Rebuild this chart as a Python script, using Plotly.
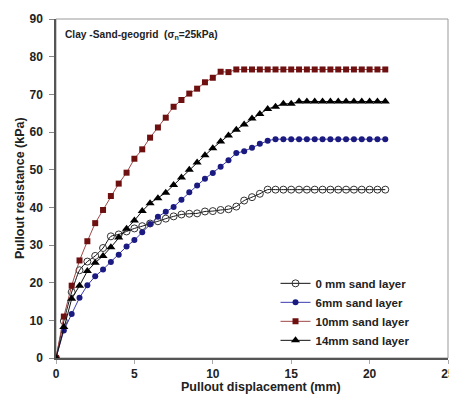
import plotly.graph_objects as go

x_mm = [i * 0.5 for i in range(43)]  # 0 .. 21 mm

y_0mm = [0, 9.8, 17.5, 23.3, 25.6, 27.1, 29.2, 32.3, 32.8, 33.6, 34.4, 35.0, 35.7, 36.3,
         37.0, 37.6, 38.1, 38.3, 38.4, 38.9, 39.0, 39.3, 39.5, 40.2, 41.8, 42.7, 43.6, 44.7,
         44.7, 44.7, 44.7, 44.7, 44.7, 44.7, 44.7, 44.7, 44.7, 44.7, 44.7, 44.7, 44.7, 44.7, 44.7]
y_6mm = [0, 7.3, 11.7, 16.0, 19.3, 21.7, 23.5, 25.5, 27.4, 29.6, 31.3, 33.4, 35.6, 37.5,
         38.8, 40.1, 42.0, 44.0, 45.8, 47.6, 49.1, 50.8, 52.5, 54.4, 54.9, 55.8, 56.9, 57.7,
         58.1, 58.1, 58.1, 58.1, 58.1, 58.1, 58.1, 58.1, 58.1, 58.1, 58.1, 58.1, 58.1, 58.1, 58.1]
y_10mm = [0, 11.0, 19.2, 25.9, 31.0, 35.8, 39.3, 43.0, 46.3, 49.2, 52.9, 55.4, 58.5, 61.2,
          63.8, 66.7, 68.5, 70.2, 71.5, 73.2, 74.4, 76.0, 75.9, 76.6, 76.6, 76.6, 76.6, 76.6,
          76.6, 76.6, 76.6, 76.6, 76.6, 76.6, 76.6, 76.6, 76.6, 76.6, 76.6, 76.6, 76.6, 76.6, 76.6]
y_14mm = [0, 8.2, 15.7, 19.2, 23.1, 25.3, 27.1, 29.4, 32.0, 34.3, 36.5, 39.0, 41.1, 42.4,
          43.9, 45.9, 47.9, 50.0, 51.9, 53.8, 55.7, 57.5, 59.1, 60.6, 62.0, 63.6, 64.8, 66.1,
          66.7, 67.5, 67.5, 68.1, 68.1, 68.1, 68.1, 68.1, 68.1, 68.1, 68.1, 68.1, 68.1, 68.1, 68.1]

series_names = ["0 mm sand layer", "6mm sand layer", "10mm sand layer", "14mm sand layer"]
x_ticks = [0, 5, 10, 15, 20, 25]
y_ticks = [0, 10, 20, 30, 40, 50, 60, 70, 80, 90]

FONT = "Liberation Sans, Arial, sans-serif"
TXT = "#222222"

fig = go.Figure()
fig.add_trace(go.Scatter(x=x_mm, y=y_0mm, name=f"<b>{series_names[0]}</b>", mode="lines+markers",
                         line=dict(color="#111111", width=1, shape="spline", smoothing=0.6),
                         marker=dict(symbol="circle-open", size=7, color="#333333",
                                     line=dict(width=1, color="#333333"))))
fig.add_trace(go.Scatter(x=x_mm, y=y_6mm, name=f"<b>{series_names[1]}</b>", mode="lines+markers",
                         line=dict(color="#3b3bb0", width=1),
                         marker=dict(symbol="circle", size=6, color="#1a1a80")))
fig.add_trace(go.Scatter(x=x_mm, y=y_10mm, name=f"<b>{series_names[2]}</b>", mode="lines+markers",
                         line=dict(color="#a04848", width=1),
                         marker=dict(symbol="square", size=6, color="#6e1010")))
fig.add_trace(go.Scatter(x=x_mm, y=y_14mm, name=f"<b>{series_names[3]}</b>", mode="lines+markers",
                         line=dict(color="#111111", width=1),
                         marker=dict(symbol="triangle-up", size=8, color="#000000")))

axis_font = dict(family=FONT, size=12, color=TXT)

fig.update_layout(
    width=449, height=394,
    margin=dict(l=56, r=1, t=19, b=36, autoexpand=False),
    paper_bgcolor="white", plot_bgcolor="white",
    font=dict(family=FONT, size=11, color=TXT),
    showlegend=True,
    legend=dict(x=0.56, y=0.263, xanchor="left", yanchor="top",
                bgcolor="rgba(0,0,0,0)", font=dict(family=FONT, size=11.5, color=TXT),
                tracegroupgap=0, itemwidth=30),
    xaxis=dict(range=[0, 25], tickvals=x_ticks, ticktext=[f"<b>{v}</b>" for v in x_ticks],
               showgrid=False, zeroline=False, showline=True, linecolor="#555555", linewidth=1.5,
               ticks="outside", ticklen=4, tickcolor="#aaaaaa", tickfont=axis_font,
               ticklabeloverflow="allow", automargin=False),
    yaxis=dict(range=[0, 90], tickvals=y_ticks, ticktext=[f"<b>{v}</b>" for v in y_ticks],
               showgrid=False, zeroline=False, showline=True, linecolor="#555555", linewidth=1.5,
               ticks="outside", ticklen=5, tickcolor="#888888", tickfont=axis_font,
               ticklabelstandoff=4, automargin=False),
    shapes=[dict(type="rect", xref="paper", yref="paper", x0=0, x1=1, y0=0, y1=1,
                 line=dict(color="#999999", width=1), layer="below")],
    annotations=[
        dict(text="<b>Clay -Sand-geogrid  (σ<sub>n</sub>=25kPa)</b>", xref="paper", yref="paper",
             x=0.018, y=0.975, xanchor="left", yanchor="top", showarrow=False,
             font=dict(family=FONT, size=10.2, color=TXT)),
        dict(text="<b>Pullout displacement (mm)</b>", xref="paper", yref="paper",
             x=0.523, y=-0.085, xanchor="center", yanchor="middle", showarrow=False,
             font=dict(family=FONT, size=12.5, color=TXT)),
        dict(text="<b>Pullout resistance (kPa)</b>", xref="paper", yref="paper",
             x=-0.093, y=0.5, xanchor="center", yanchor="middle", showarrow=False, textangle=-90,
             font=dict(family=FONT, size=12.5, color=TXT)),
    ],
)

fig.write_html("out.html", config={"displayModeBar": False},
               post_script="document.body.style.margin='0';document.body.style.overflow='hidden';")
